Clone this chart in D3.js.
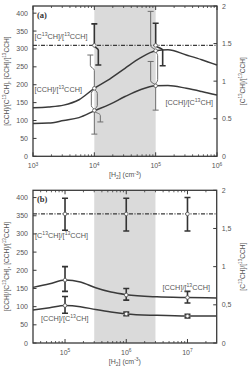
<!DOCTYPE html>
<html>
<head>
<meta charset="utf-8">
<script src="https://cdn.jsdelivr.net/npm/d3@7"></script>
<style>
  body { margin: 0; background: #fff; }
  svg { display: block; }
  text { font-family: "Liberation Sans", Arial, sans-serif; fill: #555; }
</style>
</head>
<body>
<svg id="chart" width="249" height="366"></svg>
<script>
// ---- panel (a) model curves ----
const densA   = [1e3, 10**3.25, 10**3.5, 10**3.75, 1e4, 10**4.25, 10**4.5, 10**4.75, 1e5, 10**5.2, 10**5.5, 10**5.75, 1e6]
const cch13A  = [136, 138, 143, 158, 190, 216, 246, 275, 295, 298, 283, 270, 255]   // [CCH]/[13CCH]
const cchC13A = [92, 93, 100, 108, 127, 145, 167, 186, 197, 198, 190, 181, 171]     // [CCH]/[C13CH]
const ratioLineA = 310                                                             // [C13CH]/[13CCH] (left units)

// ---- panel (a) observations ----
const obsDensA    = [1e4, 1e5]
const obsRatioA   = [310, 310]
const obsRatioHiA = [370, 372]
const obsRatioLoA = [255, 253]
const obsCch13A   = [190, 295]
const obsCch13HiA = [283, 405]
const obsCch13LoA = [96, 200]
const obsCchC13A  = [128, 197]
const obsCchC13HiA = [190, 265]
const obsCchC13LoA = [62, 129]

// ---- panel (b) model curves ----
const densB   = [3e4, 10**4.75, 1e5, 10**5.25, 10**5.5, 10**5.75, 1e6, 10**6.5, 1e7, 3e7]
const cch13B  = [153, 163, 173, 168, 152, 140, 133, 127, 125, 124]
const cchC13B = [91, 97, 103, 100, 92, 85, 80, 76, 74, 74]
const ratioLineB = 355

// ---- panel (b) observations ----
const obsDensB    = [1e5, 1e6, 1e7]
const obsRatioB   = [355, 355, 355]
const obsRatioHiB = [398, 398, 400]
const obsRatioLoB = [310, 308, 308]
const obsCch13B   = [173, 132, 125]
const obsCch13HiB = [210, 150, 142]
const obsCch13LoB = [142, 118, 110]
const obsCchC13B  = [103, 80, 74]
const obsCchC13HiB = [128, 85, 79]
const obsCchC13LoB = [82, 75, 69]

// tick labels
const yTicks = [0, 50, 100, 150, 200, 250, 300, 350, 400]
const y2Ticks = [0, 0.5, 1, 1.5, 2]
const xTicksA = [1e3, 1e4, 1e5, 1e6]
const xTicksB = [1e5, 1e6, 1e7]

var svg = d3.select("#chart")
var ink = "#3a3a3a"

// text with super/subscripts: parts are strings, {sup: ".."} or {sub: ".."}
function richText(g, x, y, parts, size, anchor, rotate) {
  var t = g.append("text")
    .attr("x", x).attr("y", y)
    .style("font-size", size + "px")
    .attr("text-anchor", anchor || "start")
  if (rotate) t.attr("transform", "rotate(" + rotate + "," + x + "," + y + ")")
  var cur = 0
  parts.forEach(function(p) {
    var target = 0, txt = p, fs = size
    if (typeof p !== "string") {
      if (p.sup != null) { target = -size * 0.4; txt = p.sup }
      else { target = size * 0.25; txt = p.sub }
      fs = size * 0.7
    }
    t.append("tspan").attr("dy", target - cur).style("font-size", fs + "px").text(txt)
    cur = target
  })
  return t
}

const lblRatio = ["[C", {sup: "13"}, "CH]/[", {sup: "13"}, "CCH]"]
const lbl13 = ["[CCH]/[", {sup: "13"}, "CCH]"]
const lblC13 = ["[CCH]/[C", {sup: "13"}, "CH]"]
const lblLeft = ["[CCH]/[C", {sup: "13"}, "CH], [CCH]/[", {sup: "13"}, "CCH]"]
const lblX = ["[H", {sub: "2"}, "] (cm", {sup: "-3"}, ")"]

function drawPanel(p) {
  var g = svg.append("g")
  var x = d3.scaleLog().domain(p.xdom).range([p.left, p.right])
  var y = d3.scaleLinear().domain([0, 420]).range([p.bottom, p.top])
  var y2 = d3.scaleLinear().domain([0, 2]).range([p.bottom, p.top])

  // shaded density range
  g.append("rect")
    .attr("x", x(p.shade[0])).attr("y", p.top)
    .attr("width", x(p.shade[1]) - x(p.shade[0]))
    .attr("height", p.bottom - p.top)
    .attr("fill", "#dadada")

  // ticks
  var lo = Math.floor(Math.log10(p.xdom[0])), hi = Math.ceil(Math.log10(p.xdom[1]))
  var minor = []
  for (var d = lo; d < hi; d++) for (var k = 2; k <= 9; k++) {
    var v = k * Math.pow(10, d)
    if (v > p.xdom[0] * 1.001 && v < p.xdom[1] * 0.999) minor.push(v)
  }
  minor.forEach(function(v) {
    g.append("line").attr("x1", x(v)).attr("x2", x(v)).attr("y1", p.bottom).attr("y2", p.bottom - 2).attr("stroke", ink).attr("stroke-width", 0.8)
    g.append("line").attr("x1", x(v)).attr("x2", x(v)).attr("y1", p.top).attr("y2", p.top + 2).attr("stroke", ink).attr("stroke-width", 0.8)
  })
  p.xticks.forEach(function(v) {
    g.append("line").attr("x1", x(v)).attr("x2", x(v)).attr("y1", p.bottom).attr("y2", p.bottom - 4).attr("stroke", ink)
    g.append("line").attr("x1", x(v)).attr("x2", x(v)).attr("y1", p.top).attr("y2", p.top + 4).attr("stroke", ink)
    richText(g, x(v), p.bottom + 12, ["10", {sup: String(Math.round(Math.log10(v)))}], 7, "middle")
  })
  yTicks.forEach(function(v) {
    g.append("line").attr("x1", p.left).attr("x2", p.left + 3.5).attr("y1", y(v)).attr("y2", y(v)).attr("stroke", ink)
    g.append("text").attr("x", p.left - 5).attr("y", y(v) + 2.5).attr("text-anchor", "end")
      .style("font-size", "7px").text(v)
  })
  y2Ticks.forEach(function(v) {
    g.append("line").attr("x1", p.right).attr("x2", p.right - 3.5).attr("y1", y2(v)).attr("y2", y2(v)).attr("stroke", ink)
    g.append("text").attr("x", p.right + 5).attr("y", y2(v) + 2.5)
      .style("font-size", "7px").text(String(v).replace(".", p.dec))
  })

  // model curves
  var line = d3.line().curve(d3.curveMonotoneX)
  ;[p.c13, p.cC13].forEach(function(vals) {
    g.append("path")
      .attr("d", line(p.dens.map(function(n, i) { return [x(n), y(vals[i])] })))
      .attr("fill", "none").attr("stroke", ink).attr("stroke-width", 1.5)
  })
  g.append("line")
    .attr("x1", p.left).attr("x2", p.right)
    .attr("y1", y(p.ratioLine)).attr("y2", y(p.ratioLine))
    .attr("stroke", ink).attr("stroke-width", 1.3)
    .attr("stroke-dasharray", "4,1.5,1,1.5")

  // error bars
  var o = p.obs
  p.halves.forEach(function(h) {
    var X = x(o.n[h.i])
    var y0 = y(o[h.from][h.i]), y1 = y(o[h.to][h.i])
    var s = y1 > y0 ? 1 : -1, j = 5
    var ya = h.jogAt != null ? y(h.jogAt) : y0
    var path = d3.path()
    path.moveTo(X, y0)
    if (h.off) {
      path.lineTo(X, ya)
      path.bezierCurveTo(X, ya + s * j / 2, X + h.off, ya + s * j / 2, X + h.off, ya + s * j)
      if (h.back) {
        path.lineTo(X + h.off, y1 - s * j)
        path.bezierCurveTo(X + h.off, y1 - s * j / 2, X, y1 - s * j / 2, X, y1)
      } else path.lineTo(X + h.off, y1)
    } else path.lineTo(X, y1)
    if (h.cap) {
      var cx = h.back ? X : X + (h.off || 0)
      path.moveTo(cx - 3, y1); path.lineTo(cx + 3, y1)
    }
    g.append("path").attr("d", path.toString()).attr("fill", "none")
      .attr("stroke", h.heavy ? "#333" : "#6e6e6e")
      .attr("stroke-width", h.heavy ? 1.6 : 1)
  })
  // observed points
  o.n.forEach(function(n, i) {
    ;["ratio", "c13", "cC13"].forEach(function(k) {
      g.append("circle").attr("cx", x(n)).attr("cy", y(o[k][i])).attr("r", 1.8)
        .attr("fill", "#fff").attr("stroke", "#555").attr("stroke-width", 0.8)
    })
  })

  // frame
  g.append("rect")
    .attr("x", p.left).attr("y", p.top)
    .attr("width", p.right - p.left).attr("height", p.bottom - p.top)
    .attr("fill", "none").attr("stroke", ink).attr("stroke-width", 1.3)

  // labels
  g.append("text").attr("x", p.left + 4).attr("y", p.top + 12)
    .style("font-family", "'Liberation Serif', serif").style("font-weight", "bold")
    .style("font-size", "8.5px").style("fill", "#333").text(p.name)
  p.labels.forEach(function(l) { richText(g, l[0], l[1], l[2], 7.3, l[3]) })
  richText(g, (p.left + p.right) / 2, p.bottom + 21, lblX, 7, "middle")
  richText(g, 9, (p.top + p.bottom) / 2, lblLeft, 6.6, "middle", -90)
  richText(g, 245, (p.top + p.bottom) / 2, lblRatio, 6.6, "middle", -90)
}

drawPanel({
  name: "(a)", top: 6, bottom: 156.3, left: 33, right: 217,
  xdom: [1e3, 1e6], shade: [1e4, 1e5], xticks: xTicksA, dec: ".",
  dens: densA, c13: cch13A, cC13: cchC13A, ratioLine: ratioLineA,
  obs: {n: obsDensA, ratio: obsRatioA, ratioHi: obsRatioHiA, ratioLo: obsRatioLoA,
        c13: obsCch13A, c13Hi: obsCch13HiA, c13Lo: obsCch13LoA,
        cC13: obsCchC13A, cC13Hi: obsCchC13HiA, cC13Lo: obsCchC13LoA},
  halves: [
    {i: 0, from: "ratio", to: "ratioHi", cap: 1, heavy: 1},
    {i: 0, from: "ratio", to: "ratioLo", off: 4, cap: 1, heavy: 1},
    {i: 0, from: "c13", to: "c13Hi", off: -4, jogAt: 240, cap: 1},
    {i: 0, from: "c13", to: "cC13", off: -3, back: 1},
    {i: 0, from: "cC13", to: "cC13Hi", off: 3, back: 1},
    {i: 0, from: "cC13", to: "c13Lo", off: 6, cap: 1},
    {i: 0, from: "cC13", to: "cC13Lo", cap: 1},
    {i: 1, from: "ratio", to: "ratioHi", cap: 1, heavy: 1},
    {i: 1, from: "ratio", to: "ratioLo", off: 7, cap: 1, heavy: 1},
    {i: 1, from: "c13", to: "c13Hi", off: -5, cap: 1},
    {i: 1, from: "c13", to: "c13Lo", off: 2, back: 1},
    {i: 1, from: "cC13", to: "cC13Hi", off: -5, cap: 1},
    {i: 1, from: "cC13", to: "cC13Lo", cap: 1}
  ],
  labels: [[34.5, 39, lblRatio], [34.5, 92, lbl13], [213, 105, lblC13, "end"]]
})

drawPanel({
  name: "(b)", top: 190.3, bottom: 343, left: 33, right: 216.7,
  xdom: [3e4, 3e7], shade: [3e5, 3e6], xticks: xTicksB, dec: ",",
  dens: densB, c13: cch13B, cC13: cchC13B, ratioLine: ratioLineB,
  obs: {n: obsDensB, ratio: obsRatioB, ratioHi: obsRatioHiB, ratioLo: obsRatioLoB,
        c13: obsCch13B, c13Hi: obsCch13HiB, c13Lo: obsCch13LoB,
        cC13: obsCchC13B, cC13Hi: obsCchC13HiB, cC13Lo: obsCchC13LoB},
  halves: [0, 1, 2].flatMap(function(i) {
    return [["ratio", "ratioHi"], ["ratio", "ratioLo"], ["c13", "c13Hi"], ["c13", "c13Lo"],
            ["cC13", "cC13Hi"], ["cC13", "cC13Lo"]].map(function(k) {
      return {i: i, from: k[0], to: k[1], cap: 1, heavy: 1}
    })
  }),
  labels: [[35, 238, lblRatio], [210, 289.5, lbl13, "end"], [41, 321, lblC13]]
})
</script>
</body>
</html>
